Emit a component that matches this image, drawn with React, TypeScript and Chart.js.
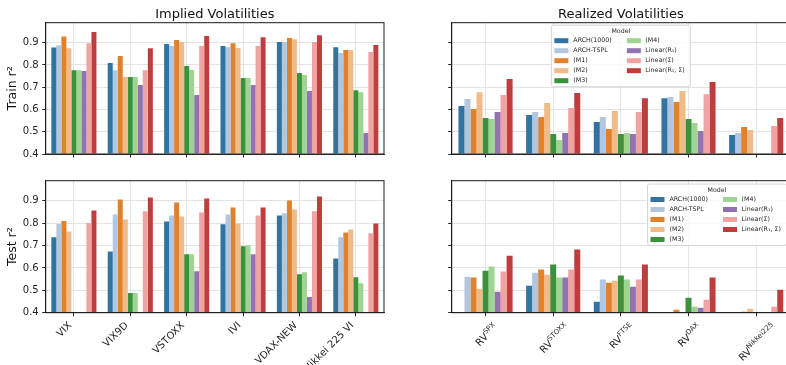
import React, { useEffect, useRef } from 'react';
import { Chart, registerables } from 'chart.js';

Chart.register(...registerables);

const FONT = '"DejaVu Sans", "Liberation Sans", sans-serif';
const TEXT = '#262626';

// ---- data ----
const models = ['ARCH(1000)', 'ARCH-TSPL', '(M1)', '(M2)', '(M3)', '(M4)', 'Linear(R₁)', 'Linear(Σ)', 'Linear(R₁, Σ)'];
const modelColors = ['#3274a1', '#b3c6e0', '#e1812c', '#efbb89', '#3a923a', '#a0d494', '#9372b2', '#f1a3a1', '#c03d3e'];

const ivCategories = ['VIX', 'VIX9D', 'VSTOXX', 'IVI', 'VDAX-NEW', 'Nikkei 225 VI'];
const rvCategories = ['RV^SPX', 'RV^STOXX', 'RV^FTSE', 'RV^DAX', 'RV^Nikkei225'];

const yTicks = [0.4, 0.5, 0.6, 0.7, 0.8, 0.9];
const yMin = 0.4;
const yMax = 0.99;

// rows follow `models` order, columns follow ivCategories
const ivTrain = [
  [0.879, 0.809, 0.894, 0.885, 0.903, 0.880],
  [0.889, 0.776, 0.885, 0.880, 0.903, 0.854],
  [0.928, 0.840, 0.912, 0.898, 0.921, 0.867],
  [0.875, 0.746, 0.903, 0.876, 0.916, 0.867],
  [0.776, 0.746, 0.795, 0.741, 0.764, 0.687],
  [0.776, 0.746, 0.777, 0.741, 0.755, 0.678],
  [0.773, 0.710, 0.665, 0.710, 0.683, 0.494],
  [0.898, 0.776, 0.885, 0.885, 0.903, 0.858],
  [0.948, 0.875, 0.930, 0.925, 0.934, 0.890],
];

const ivTest = [
  [0.737, 0.674, 0.808, 0.795, 0.835, 0.642],
  [0.796, 0.839, 0.835, 0.839, 0.844, 0.737],
  [0.810, 0.906, 0.893, 0.870, 0.901, 0.759],
  [0.763, 0.817, 0.830, 0.799, 0.861, 0.772],
  [null, 0.488, 0.661, 0.697, 0.572, 0.559],
  [null, 0.488, 0.661, 0.701, 0.581, 0.532],
  [null, null, 0.585, 0.661, 0.470, null],
  [0.801, 0.853, 0.848, 0.835, 0.853, 0.755],
  [0.857, 0.915, 0.910, 0.870, 0.919, 0.799],
];

// rows follow `models` order, columns follow rvCategories
const rvTrain = [
  [0.616, 0.575, 0.544, 0.651, 0.485],
  [0.647, 0.589, 0.566, 0.656, 0.494],
  [0.602, 0.566, 0.512, 0.634, 0.521],
  [0.678, 0.629, 0.593, 0.683, 0.508],
  [0.562, 0.490, 0.490, 0.557, null],
  [0.557, 0.463, 0.494, 0.539, null],
  [0.589, 0.494, 0.490, 0.503, null],
  [0.665, 0.607, 0.589, 0.669, 0.526],
  [0.737, 0.674, 0.651, 0.723, 0.562],
];

const rvTest = [
  [null, 0.521, 0.449, null, null],
  [0.561, 0.579, 0.548, null, null],
  [0.557, 0.593, 0.534, 0.413, 0.404],
  [0.507, 0.570, 0.543, null, 0.418],
  [0.588, 0.615, 0.566, 0.467, null],
  [0.606, 0.557, 0.548, 0.427, null],
  [0.494, 0.557, 0.516, 0.422, null],
  [0.584, 0.593, 0.548, 0.458, 0.427],
  [0.655, 0.682, 0.615, 0.557, 0.503],
];

// ---- plugins ----
const framePlugin = {
  id: 'frame',
  afterDatasetsDraw(chart: any) {
    const { ctx, chartArea: a } = chart;
    ctx.save();
    ctx.strokeStyle = '#1a1a1a';
    ctx.lineWidth = 1;
    ctx.strokeRect(a.left, a.top, a.right - a.left, a.bottom - a.top);
    ctx.restore();
  },
};

const panelTitlePlugin = {
  id: 'panelTitle',
  afterDraw(chart: any, _args: any, opts: any) {
    if (!opts || !opts.text) return;
    const { ctx, chartArea: a } = chart;
    ctx.save();
    ctx.font = `13px ${FONT}`;
    ctx.fillStyle = '#111';
    ctx.textAlign = 'center';
    ctx.textBaseline = 'alphabetic';
    ctx.fillText(opts.text, (a.left + a.right) / 2, opts.y);
    ctx.restore();
  },
};

const xLabelsPlugin = {
  id: 'xLabels',
  afterDraw(chart: any, _args: any, opts: any) {
    if (!opts || !opts.show) return;
    const { ctx, chartArea: a } = chart;
    const scale = chart.scales.x;
    const labels: string[] = chart.data.labels;
    const f = 10;
    const c = Math.SQRT1_2;
    labels.forEach((label, i) => {
      const x = scale.getPixelForValue(i);
      const y0 = a.bottom + 6.5;
      const parts = label.split('^');
      const base = parts[0];
      const sup = parts[1];
      ctx.save();
      ctx.font = `${f}px ${FONT}`;
      const wBase = ctx.measureText(base).width;
      let wSup = 0;
      if (sup) {
        ctx.font = `${f * 0.7}px ${FONT}`;
        wSup = ctx.measureText(sup).width;
      }
      const w = wBase + wSup;
      const h = sup ? f * 1.45 : f * 1.17;
      const ox = opts.align === 'center' ? x - (c * (h - w)) / 2 : x - c * h;
      ctx.translate(ox, y0);
      ctx.rotate(-Math.PI / 4);
      ctx.fillStyle = TEXT;
      ctx.textAlign = 'left';
      ctx.textBaseline = 'alphabetic';
      const baseline = h - f * 0.24;
      ctx.font = `${f}px ${FONT}`;
      ctx.fillText(base, -w, baseline);
      if (sup) {
        ctx.font = `${f * 0.7}px ${FONT}`;
        ctx.fillText(sup, -w + wBase, baseline - f * 0.42);
      }
      ctx.restore();
    });
  },
};

const modelLegendPlugin = {
  id: 'modelLegend',
  afterDraw(chart: any, _args: any, opts: any) {
    if (!opts || !opts.show) return;
    const { ctx, chartArea: a } = chart;
    const bw = 139;
    const bh = 61.5;
    const left = opts.anchor === 'center' ? (a.left + a.right) / 2 - bw / 2 : a.right - 3.5 - bw;
    const top = a.top + opts.offsetTop;
    ctx.save();
    ctx.beginPath();
    if (ctx.roundRect) ctx.roundRect(left, top, bw, bh, 2);
    else ctx.rect(left, top, bw, bh);
    ctx.fillStyle = 'rgba(255,255,255,0.8)';
    ctx.fill();
    ctx.strokeStyle = '#d6d6d6';
    ctx.lineWidth = 1;
    ctx.stroke();
    const fs = 6.3;
    ctx.font = `${fs}px ${FONT}`;
    ctx.fillStyle = TEXT;
    ctx.textAlign = 'center';
    ctx.textBaseline = 'middle';
    ctx.fillText('Model', left + bw / 2, top + 6);
    ctx.textAlign = 'left';
    chart.data.datasets.forEach((ds: any, i: number) => {
      const col = i < 5 ? 0 : 1;
      const row = i < 5 ? i : i - 5;
      const py = top + 15.5 + row * 10;
      const px = left + (col ? 75.5 : 3);
      ctx.fillStyle = ds.backgroundColor;
      ctx.fillRect(px, py - 2.5, 14, 5);
      ctx.fillStyle = TEXT;
      ctx.fillText(ds.label, left + (col ? 94 : 22), py);
    });
    ctx.restore();
  },
};

type PanelProps = {
  labels: string[];
  values: (number | null)[][];
  x: number;
  y: number;
  w: number;
  h: number;
  area: { left: number; top: number; right: number; bottom: number };
  yLabel?: string;
  showYLabels: boolean;
  title?: string;
  showXLabels: boolean;
  xAlign?: string;
  legendAnchor?: string;
  legendOffset?: number;
};

function Panel(p: PanelProps) {
  const ref = useRef<HTMLCanvasElement>(null);
  useEffect(() => {
    const xH = 10;
    const chart = new Chart(ref.current as HTMLCanvasElement, {
      type: 'bar',
      data: {
        labels: p.labels,
        datasets: models.map((m, i) => ({
          label: m,
          data: p.values[i],
          backgroundColor: modelColors[i],
          borderWidth: 0,
          categoryPercentage: 0.8,
          barPercentage: 1.0,
          base: yMin,
        })),
      },
      plugins: [framePlugin, panelTitlePlugin, xLabelsPlugin, modelLegendPlugin],
      options: {
        responsive: false,
        animation: false,
        devicePixelRatio: 1,
        layout: {
          padding: {
            left: 0,
            top: p.area.top,
            right: p.w - p.area.right,
            bottom: p.h - p.area.bottom - xH,
          },
        },
        plugins: {
          legend: { display: false },
          tooltip: { enabled: false },
          title: { display: false },
          panelTitle: { text: p.title, y: 18 },
          xLabels: { show: p.showXLabels, align: p.xAlign || 'right' },
          modelLegend: { show: !!p.legendAnchor, anchor: p.legendAnchor, offsetTop: p.legendOffset ?? 3 },
        } as any,
        scales: {
          x: {
            type: 'category',
            offset: true,
            grid: {
              offset: false,
              color: '#e4e4e4',
              lineWidth: 1,
              drawTicks: true,
              tickLength: 3.5,
              tickColor: TEXT,
              tickWidth: 1,
            },
            border: { display: true, color: '#333', width: 1 },
            ticks: { display: false },
            afterFit: (s: any) => {
              s.height = xH;
            },
          },
          y: {
            min: yMin,
            max: yMax,
            afterBuildTicks: (s: any) => {
              s.ticks = yTicks.map((v) => ({ value: v }));
            },
            grid: {
              color: '#e4e4e4',
              lineWidth: 1,
              drawTicks: true,
              tickLength: 3.5,
              tickColor: TEXT,
              tickWidth: 1,
            },
            border: { display: true, color: '#1a1a1a', width: 1 },
            ticks: {
              display: p.showYLabels,
              padding: 3.5,
              color: TEXT,
              font: { family: FONT, size: 10 },
              callback: (v: any) => Number(v).toFixed(1),
            },
            title: {
              display: !!p.yLabel,
              text: p.yLabel || '',
              color: '#111',
              font: { family: FONT, size: 12.5 },
              padding: { top: 5.5, bottom: 0 },
            },
            afterFit: (s: any) => {
              s.width = p.area.left;
            },
          },
        },
      } as any,
    });
    return () => chart.destroy();
  }, []);
  return (
    <canvas
      ref={ref}
      width={p.w}
      height={p.h}
      style={{ position: 'absolute', left: p.x, top: p.y, width: p.w, height: p.h }}
    />
  );
}

export default function App() {
  return (
    <div
      style={{
        position: 'fixed',
        left: 0,
        top: 0,
        width: 786,
        height: 365,
        overflow: 'hidden',
        background: '#fff',
      }}
    >
      <Panel
        labels={ivCategories}
        values={ivTrain}
        x={0}
        y={0}
        w={400}
        h={170}
        area={{ left: 45.7, top: 22.7, right: 384, bottom: 154 }}
        yLabel="Train r²"
        showYLabels={true}
        title="Implied Volatilities"
        showXLabels={false}
      />
      <Panel
        labels={ivCategories}
        values={ivTest}
        x={0}
        y={170}
        w={400}
        h={195}
        area={{ left: 45.7, top: 10.7, right: 384, bottom: 142.7 }}
        yLabel="Test r²"
        showYLabels={true}
        showXLabels={true}
      />
      <Panel
        labels={rvCategories}
        values={rvTrain}
        x={400}
        y={0}
        w={400}
        h={170}
        area={{ left: 51.7, top: 22.7, right: 390, bottom: 154 }}
        showYLabels={false}
        title="Realized Volatilities"
        showXLabels={false}
        legendAnchor="center"
        legendOffset={2.5}
      />
      <Panel
        labels={rvCategories}
        values={rvTest}
        x={400}
        y={170}
        w={400}
        h={195}
        area={{ left: 51.7, top: 10.7, right: 390, bottom: 142.7 }}
        showYLabels={false}
        showXLabels={true}
        xAlign="center"
        legendAnchor="right"
        legendOffset={3.3}
      />
    </div>
  );
}
